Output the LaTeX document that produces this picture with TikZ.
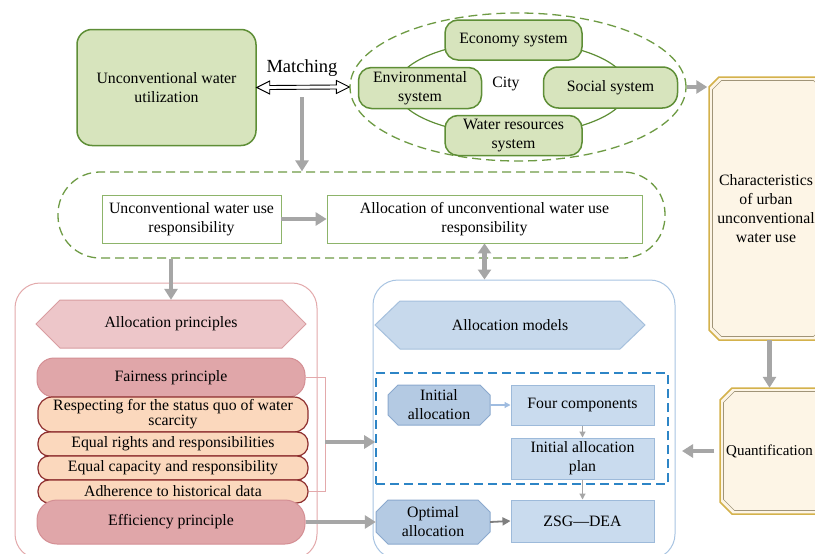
\documentclass[tikz,border=0pt]{standalone}
\usepackage{fontspec}
\setmainfont{Liberation Serif}
\usetikzlibrary{arrows.meta,shapes.geometric,calc}
\definecolor{gfill}{HTML}{D7E4BD}
\definecolor{gdraw}{HTML}{5E8E36}
\definecolor{gdash}{HTML}{6E9B44}
\definecolor{wbord}{HTML}{8DB46A}
\definecolor{agray}{HTML}{A6A6A6}
\definecolor{dgray}{HTML}{7F7F7F}
\definecolor{pinkb}{HTML}{E3A9AB}
\definecolor{phexf}{HTML}{EDC6C9}
\definecolor{phexd}{HTML}{D99DA1}
\definecolor{fairf}{HTML}{E0A6A9}
\definecolor{faird}{HTML}{D48F94}
\definecolor{peachf}{HTML}{FBD8BD}
\definecolor{peachd}{HTML}{8E2F2F}
\definecolor{blueb}{HTML}{A8C4E2}
\definecolor{bhexf}{HTML}{C7D9EC}
\definecolor{bhexd}{HTML}{A5C0DD}
\definecolor{octf}{HTML}{B4CAE3}
\definecolor{octd}{HTML}{8BA9CE}
\definecolor{brf}{HTML}{C9DBEE}
\definecolor{brd}{HTML}{9DBADA}
\definecolor{bdash}{HTML}{2D85C6}
\definecolor{cream}{HTML}{FDF5E6}
\definecolor{gold}{HTML}{D4B24C}
\definecolor{inl}{HTML}{A09478}
\definecolor{lblue}{HTML}{9FBCE0}
\newcommand\fsz{\fontsize{15.8}{19}\selectfont}
\newcommand\myhex[6]{\path[#1] (#2,{(#3+#5)/2}) -- (#2+#6,#3) -- (#4-#6,#3) -- (#4,{(#3+#5)/2}) -- (#4-#6,#5) -- (#2+#6,#5) -- cycle;}
\newcommand\mycham[6]{\path[#1] (#2+#6,#3) -- (#4-#6,#3) -- (#4,#3+#6) -- (#4,#5-#6) -- (#4-#6,#5) -- (#2+#6,#5) -- (#2,#5-#6) -- (#2,#3+#6) -- cycle;}
\tikzset{
  txt/.style={inner sep=0pt, align=center, font=\fsz},
  gbox/.style={txt, draw=gdraw, fill=gfill, line width=1.5pt, rounded corners=13},
  wbox/.style={txt, draw=wbord, fill=white, line width=0.8pt},
  gdashed/.style={draw=gdash, dash pattern=on 9pt off 5pt, line width=1.3pt},
  garrow/.style={draw=agray, line width=4.5pt, -{Triangle[length=11pt,width=13pt]}},
  gdarrow/.style={draw=agray, line width=4.5pt, {Triangle[length=10pt,width=13pt]}-{Triangle[length=10pt,width=13pt]}},
  tarrow/.style={draw=agray, line width=1.2pt, -{Triangle[length=6pt,width=6pt]}},
  marrow/.style={draw=dgray, line width=1.8pt, -{Triangle[length=8pt,width=8pt]}},
  fairbox/.style={txt, draw=faird, fill=fairf, line width=1pt},
  peach/.style={txt, draw=peachd, fill=peachf, line width=1.2pt},
  brect/.style={txt, draw=brd, fill=brf, line width=1pt},
}
\begin{document}
\begin{tikzpicture}[x=1pt,y=-1pt]
\useasboundingbox (0,0) rectangle (815,554);
\fill[white] (0,0) rectangle (815,554);
\clip (0,0) rectangle (815,554);

% ---------- top left ----------
\node[gbox, rounded corners=15, minimum width=179, minimum height=116] (util) at (166.5,87.5) {Unconventional water\\utilization};

% ---------- city ----------
\node[ellipse, gdashed, minimum width=336, minimum height=148, inner sep=0] (city) at (518,87) {};
\node[ellipse, draw=gdraw, line width=1.2pt, minimum width=232, minimum height=94, inner sep=0] (cityring) at (512,88) {};
\node[txt] (citylbl) at (506,84) {City};
\node[gbox, minimum width=137, minimum height=40] (econ) at (513.5,40) {Economy system};
\node[gbox, minimum width=123, minimum height=41] (env) at (420,88) {Environmental\\system};
\node[gbox, rounded corners=15, minimum width=134, minimum height=41] (soc) at (610.5,87.5) {Social system};
\node[gbox, minimum width=137, minimum height=40] (wat) at (513.5,135.5) {Water resources\\system};

% ---------- matching ----------
\node[txt, font=\fontsize{18.5}{22}\selectfont] (match) at (302,68) {Matching};
\draw[black, line width=0.9pt, fill=white] (util.east) -- ++(13,-6.5) -- ++(0,4.5) -- ($(city.west)+(-13,-2)$) -- ++(0,-4.5) -- (city.west) -- ++(-13,6.5) -- ++(0,-4.5) -- ($(util.east)+(13,2)$) -- ++(0,4.5) -- cycle;

% ---------- responsibility band ----------
\node[gdashed, rounded corners=42, minimum width=607, minimum height=86, inner sep=0] (resp) at (361.5,215) {};
\node[wbox, minimum width=179, minimum height=48] (uwr) at (191.5,219) {Unconventional water use\\responsibility};
\node[wbox, minimum width=315, minimum height=48] (aur) at (484.5,219) {Allocation of unconventional water use\\responsibility};
\coordinate (mdrop) at (302,97);
\draw[garrow] (mdrop) -- (mdrop |- resp.north);
\draw[garrow] (uwr.east) -- (aur.west);

% ---------- right side cream boxes ----------
\mycham{fill=cream, draw=gold, line width=1.5pt}{709}{77}{826}{340}{10}
\mycham{draw=inl, line width=0.6pt}{712.5}{80.5}{822.5}{336.5}{9}
\node[txt, minimum width=117, minimum height=263] (char) at (766,208.5) {Characteristics\\of urban\\unconventional\\water use};
\mycham{fill=cream, draw=gold, line width=1.5pt}{720}{388}{830}{514}{12}
\mycham{draw=inl, line width=0.6pt}{723.5}{391.5}{826.5}{510.5}{11}
\node[txt, font=\fontsize{15}{18}\selectfont, minimum width=110, minimum height=126] (quant) at (769.5,451) {Quantification};
\draw[garrow] (city.east) -- (city.east -| char.west);
\draw[garrow] (quant.north |- char.south) -- (quant.north);

% ---------- outer boxes ----------
\node[draw=pinkb, line width=1pt, rounded corners=25, minimum width=302, minimum height=276, inner sep=0] (pout) at (166,421) {};
\node[draw=blueb, line width=1pt, rounded corners=25, minimum width=302, minimum height=279, inner sep=0] (mout) at (524,419.5) {};

% ---------- principles ----------
\myhex{draw=phexd, fill=phexf, line width=1pt}{36}{300}{306}{348}{24}
\node[txt, minimum width=270, minimum height=48] (prhex) at (171,324) {Allocation principles};
\node[fairbox, rounded corners=17, minimum width=268, minimum height=39] (fair) at (171,377.5) {Fairness principle};
\node[peach, rounded corners=14, minimum width=270, minimum height=35, font=\fontsize{15.8}{12.5}\selectfont] (sq) at (173,414.5) {Respecting for the status quo of water\\scarcity};
\node[peach, rounded corners=11, minimum width=270, minimum height=24] (eqr) at (173,444) {Equal rights and responsibilities};
\node[peach, rounded corners=11, minimum width=270, minimum height=24] (eqc) at (173,468) {Equal capacity and responsibility};
\node[peach, rounded corners=11, minimum width=270, minimum height=23] (adh) at (173,491.5) {Adherence to historical data};
\node[fairbox, rounded corners=20, minimum width=268, minimum height=44] (eff) at (171,522) {Efficiency principle};
\draw[pinkb, line width=1pt] (fair.east) -- ++(20,0) |- (adh.east);
\coordinate (brk) at (325,442);

% ---------- models ----------
\myhex{draw=bhexd, fill=bhexf, line width=1pt}{375}{301}{645}{349}{25}
\node[txt, minimum width=270, minimum height=48] (mohex) at (510,325) {Allocation models};
\node[draw=bdash, line width=1.6pt, dash pattern=on 9pt off 5pt, minimum width=292, minimum height=111, inner sep=0] (ini) at (522,428.5) {};
\mycham{fill=octf, draw=octd, line width=1pt}{388}{385}{490}{425}{10}
\node[txt, minimum width=102, minimum height=40] (ia) at (439,405) {Initial\\allocation};
\node[brect, minimum width=143, minimum height=40] (fc) at (582.5,405) {Four components};
\node[brect, minimum width=143, minimum height=41] (iap) at (582.5,458.5) {Initial allocation\\plan};
\mycham{fill=octf, draw=octd, line width=1pt}{376}{500}{490}{544}{12}
\node[txt, minimum width=114, minimum height=44] (opt) at (433,522) {Optimal\\allocation};
\node[brect, minimum width=143, minimum height=42] (zsg) at (582.5,521) {ZSG\textemdash DEA};

\draw[tarrow, draw=lblue] (ia.east) -- (fc.west);
\draw[tarrow] (fc.south) -- (iap.north);
\draw[tarrow] (iap.south) -- (zsg.north);
\draw[marrow] (opt.east) -- (zsg.west);

% ---------- connecting arrows ----------
\draw[garrow] (resp.south -| prhex.north) -- (prhex.north);
\draw[gdarrow] (aur.south) -- (aur.south |- mout.north);
\draw[garrow] (brk) -- (brk -| ini.west);
\draw[garrow] (eff.east) -- (opt.west);
\coordinate (qend) at (682,451);
\draw[garrow] (quant.west) -- (qend);
\end{tikzpicture}
\end{document}
